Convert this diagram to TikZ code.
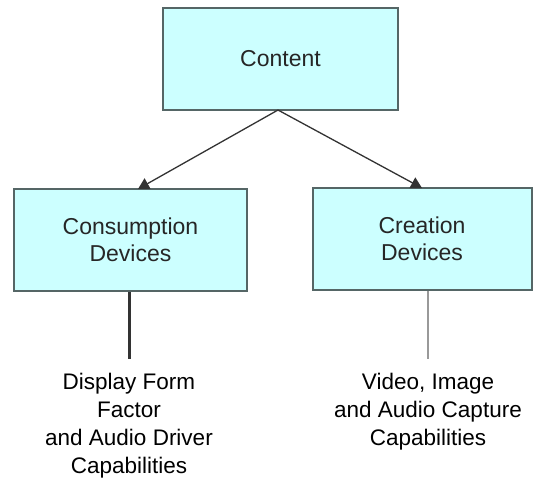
\documentclass[tikz,border=0pt]{standalone}
\usepackage{fontspec}
\setmainfont{Liberation Sans}
\usetikzlibrary{arrows.meta}
\definecolor{boxfill}{HTML}{CCFFFF}
\definecolor{boxline}{HTML}{556666}
\begin{document}
\begin{tikzpicture}[x=1pt,y=-1pt,
  box/.style={draw=boxline, line width=2pt, fill=boxfill, minimum width=#1, minimum height=102pt, inner sep=0pt,
    align=center, font=\fontsize{23}{27}\selectfont, text=black!85},
  box/.default=233pt,
  link/.style={draw=black!80, line width=1.3pt, -{Triangle[length=11pt,width=12pt]}},
  caption/.style={align=center, font=\fontsize{22.5}{28}\selectfont, text=black}]
\useasboundingbox (0,0) rectangle (534,483);
\node[box=235pt] (content) at (280.5,59) {Content};
\node[box=233pt] (cons) at (130.5,240) {Consumption\\Devices};
\node[box=219pt] (crea) at (422,239) {Creation\\Devices};
\coordinate (apex) at (278,110);
\coordinate (ltip) at (138,189);
\coordinate (rtip) at (422,188);
\draw[link] (apex) -- (ltip);
\draw[link] (apex) -- (rtip);
\coordinate (lend) at (129,359);
\coordinate (rend) at (428,359);
\draw[black!80, line width=3pt] (cons.south -| lend) -- (lend);
\draw[black!40, line width=2pt] (crea.south -| rend) -- (rend);
\node[caption, anchor=south] (ltext) at (129,482) {Display Form\\Factor\\and Audio Driver\\Capabilities};
\node[caption, anchor=north] (rtext) at (ltext.north -| rend) {Video, Image\\and Audio Capture\\Capabilities};
\end{tikzpicture}
\end{document}
